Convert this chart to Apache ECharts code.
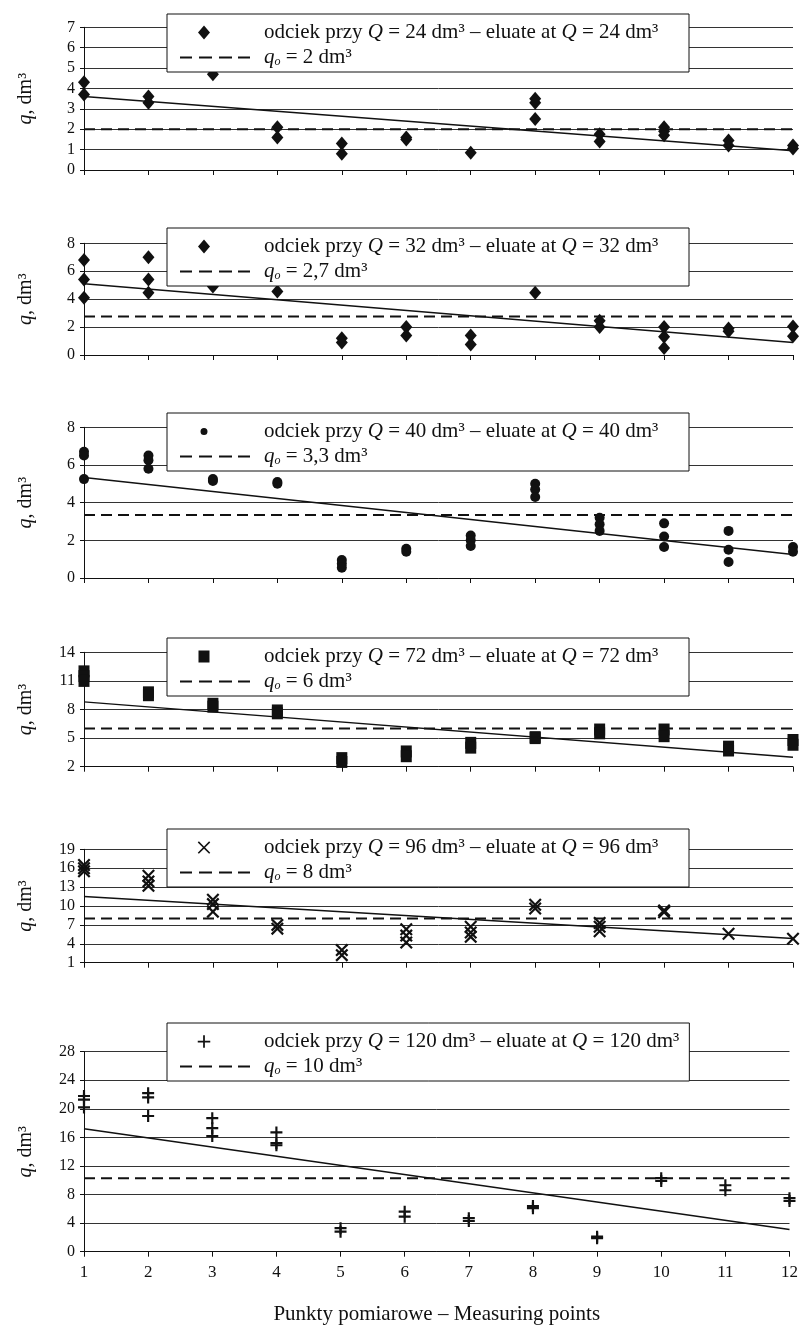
<!DOCTYPE html>
<html><head><meta charset="utf-8">
<script src="https://cdn.jsdelivr.net/npm/echarts@6/dist/echarts.min.js"></script>
<style>html,body{margin:0;padding:0;background:#fff}#c{width:801px;height:1330px}</style>
</head><body><div id="c"></div>
<script>
// ---- data ----
const measuringPoints = [1,2,3,4,5,6,7,8,9,10,11,12];
const xTitle = 'Punkty pomiarowe – Measuring points';
const yTitle = 'q, dm³';
const volumes = [24, 32, 40, 72, 96, 120];
const qoLabels = ['2', '2,7', '3,3', '6', '8', '10'];
const qoValues = [2, 2.75, 3.35, 6, 8, 10.3];
const trendStart = [3.6, 5.1, 5.33, 8.8, 11.5, 17.2];
const trendEnd = [0.95, 0.9, 1.25, 3.0, 4.85, 3.1];
const yMin = [0, 0, 0, 2, 1, 0];
const yMax = [7, 8, 8, 14, 19, 28];
const yStep = [1, 2, 2, 3, 3, 4];
const q24 = [[4.3,3.7],[3.6,3.3],[4.7],[2.1,1.6],[1.3,0.8],[1.6,1.5],[0.85],[3.5,3.3,2.5],[1.75,1.4],[2.1,1.9,1.7],[1.45,1.2],[1.2,1.05]];
const q32 = [[6.8,5.4,4.1],[7.0,5.4,4.45],[4.9],[4.55],[1.2,0.9],[2.0,1.4],[1.4,0.75],[4.45],[2.45,2.0],[2.0,1.3,0.5],[1.9,1.7],[2.05,1.35]];
const q40 = [[6.7,6.5,5.25],[6.5,6.25,5.8],[5.25,5.15],[5.1,5.0],[0.95,0.75,0.55],[1.55,1.4],[2.25,2.0,1.7],[5.0,4.7,4.3],[3.2,2.85,2.5],[2.9,2.2,1.65],[2.5,1.5,0.85],[1.65,1.4]];
const q72 = [[12.0,11.5,11.0],[9.8,9.5],[8.6,8.3],[7.9,7.6],[2.9,2.5],[3.6,3.1],[4.5,4.0],[5.1,5.0],[5.9,5.5],[5.9,5.2],[4.1,3.7],[4.8,4.3]];
const q96 = [[16.5,16.0,15.5],[14.8,13.9,13.2],[11.0,10.3,9.1],[7.0,6.4],[3.0,2.2],[6.3,5.3,4.2],[6.7,5.8,5.1],[10.2,9.6],[7.3,6.7,6.0],[9.3,9.0],[5.6],[4.8]];
const q120 = [[21.8,21.3,20.2],[22.2,21.6,19.0],[18.7,17.3,16.2],[16.7,15.2,14.9],[3.3,2.8],[5.6,4.9],[4.7,4.3],[6.4,6.1],[2.1,1.9],[10.3,9.9],[9.3,8.6],[7.5,7.1]];
const panelData = [q24, q32, q40, q72, q96, q120];

// ---- layout / style ----
const FONT = 'Liberation Serif';
const INK = '#111';
const gridTops = [27.3, 243.3, 427.3, 652.3, 849.3, 1051.7];
const gridHeights = [142.7, 111.7, 150.7, 114.4, 113.4, 200];
const legendTops = [14, 228, 413, 638, 829, 1023];

function poly(pts, s, ox, oy) {
  return pts.map((p, i) => (i ? 'L' : 'M') + (ox + p[0] * s).toFixed(2) + ',' + (oy + p[1] * s).toFixed(2)).join(' ') + ' Z';
}
function xShape(d) { // X in a 10x10 box, arm thickness by d
  const e = 5 - d;
  return [[0,d],[d,0],[5,e],[10-d,0],[10,d],[10-e,5],[10,10-d],[10-d,10],[5,10-e],[d,10],[0,10-d],[e,5]];
}
function plusShape(h) { // + in a 10x10 box, half-thickness h
  const a = 5 - h, b = 5 + h;
  return [[a,0],[b,0],[b,a],[10,a],[10,b],[b,b],[b,10],[a,10],[a,b],[0,b],[0,a],[a,a]];
}
const diamondPts = [[6,0],[12,7],[6,14],[0,7]];
const rectPts = [[0,0],[11,0],[11,12],[0,12]];
const seriesSymbols = [
  {s:'path://' + poly(diamondPts, 1, 0, 0), size:[12,14]},
  {s:'path://' + poly(diamondPts, 1, 0, 0), size:[12,14]},
  {s:'circle', size:10},
  {s:'path://' + poly(rectPts, 1, 0, 0), size:[11,12]},
  {s:'path://' + poly(xShape(1.2), 1, 0, 0), size:13},
  {s:'path://' + poly(plusShape(0.9), 1, 0, 0), size:12}
];
// legend icons: marker centred at (13,7) inside a 48x14 box so it sits left of the dashed icon's centre
const BOX = ' M0,0 L0.01,0 Z M48,14 L47.99,14 Z';
const dotIcon = 'M16.5,7 A3.5,3.5 0 1 1 9.5,7 A3.5,3.5 0 1 1 16.5,7 Z';
const legendIcons = [
  'path://' + poly(diamondPts, 1, 7, 0) + BOX,
  'path://' + poly(diamondPts, 1, 7, 0) + BOX,
  'path://' + dotIcon + BOX,
  'path://' + poly(rectPts, 1, 7.5, 1) + BOX,
  'path://' + poly(xShape(0.9), 1.25, 6.75, 0.75) + BOX,
  'path://' + poly(plusShape(0.7), 1.25, 6.75, 0.75) + BOX
];
const dashIcon = 'path://M0,0 H12 V2 H0 Z M19,0 H32 V2 H19 Z M39,0 H52 V2 H39 Z M58,0 H70 V2 H58 Z';

const LFS = 21;
const rich = {
  i: {fontFamily: FONT, fontSize: LFS, fontStyle: 'italic', color: INK},
  sub: {fontFamily: FONT, fontSize: 12, fontStyle: 'italic', color: INK, verticalAlign: 'bottom', padding: [9,0,0,0]}
};

const grids = [], xAxes = [], yAxes = [], series = [], legends = [];
for (let p = 0; p < 6; p++) {
  grids.push({left: 84, right: 8, top: gridTops[p], height: gridHeights[p]});
  const last = p === 5;
  xAxes.push({
    type: 'value', gridIndex: p, min: 1, max: 12, interval: 1,
    axisLine: {show: true, onZero: false, lineStyle: {color: INK, width: 1}},
    axisTick: {show: true, length: 5, lineStyle: {color: INK}},
    splitLine: {show: false},
    axisLabel: {show: last, margin: 12, fontFamily: FONT, fontSize: 17, color: INK},
    name: last ? xTitle : '', nameLocation: 'middle', nameGap: 52,
    nameTextStyle: {fontFamily: FONT, fontSize: 21, color: INK}
  });
  yAxes.push({
    type: 'value', gridIndex: p, min: yMin[p], max: yMax[p], interval: yStep[p],
    axisLine: {show: true, lineStyle: {color: INK, width: 1}},
    axisTick: {show: true, length: 4, lineStyle: {color: INK}},
    splitLine: {show: true, lineStyle: {color: '#333', width: 1}},
    axisLabel: {margin: 9, fontFamily: FONT, fontSize: 16, color: INK},
    name: yTitle.replace('q', '{i|q}'), nameLocation: 'middle', nameGap: 48, nameRotate: 90,
    nameTextStyle: {fontFamily: FONT, fontSize: 20, color: INK,
      rich: {i: {fontFamily: FONT, fontSize: 20, fontStyle: 'italic', color: INK}}}
  });
  const sName = 'odciek przy Q = ' + volumes[p] + ' dm³ – eluate at Q = ' + volumes[p] + ' dm³';
  const dName = 'q_o = ' + qoLabels[p] + ' dm³';
  const pts = [];
  panelData[p].forEach((vals, k) => vals.forEach(v => pts.push([measuringPoints[k], v])));
  series.push({
    type: 'scatter', name: sName, xAxisIndex: p, yAxisIndex: p, data: pts,
    symbol: seriesSymbols[p].s, symbolSize: seriesSymbols[p].size,
    itemStyle: {color: INK, opacity: 1}, z: 3
  });
  series.push({
    type: 'line', name: 'trend' + p, xAxisIndex: p, yAxisIndex: p,
    data: [[measuringPoints[0], trendStart[p]], [measuringPoints[11], trendEnd[p]]],
    symbol: 'none', lineStyle: {color: INK, width: 1.5}, z: 4, silent: true
  });
  series.push({
    type: 'line', name: dName, xAxisIndex: p, yAxisIndex: p,
    data: [[measuringPoints[0], qoValues[p]], [measuringPoints[11], qoValues[p]]],
    symbol: 'none', lineStyle: {color: INK, width: 2, type: [11, 6]}, itemStyle: {color: INK}, z: 4, silent: true
  });
  legends.push({
    data: [{name: sName, icon: legendIcons[p]}, {name: dName, icon: dashIcon}],
    orient: 'vertical', left: 167, top: legendTops[p],
    backgroundColor: '#fff', borderColor: INK, borderWidth: 1, borderRadius: 0,
    padding: [8, 10, 4, 13], itemGap: 4, itemWidth: 70, itemHeight: 14,
    symbolKeepAspect: true, selectedMode: false, z: 10,
    itemStyle: {color: INK, borderWidth: 0},
    textStyle: {fontFamily: FONT, fontSize: LFS, color: INK, lineHeight: 21, width: 415, padding: [0,0,0,9], rich: rich},
    formatter: function (name) {
      return name.replace(/Q/g, '{i|Q}').replace('q_o', '{i|q}{sub|o}');
    }
  });
}

const chart = echarts.init(document.getElementById('c'), null, {renderer: 'canvas'});
chart.setOption({
  animation: false,
  backgroundColor: '#fff',
  grid: grids, xAxis: xAxes, yAxis: yAxes, series: series, legend: legends
});
</script></body></html>
